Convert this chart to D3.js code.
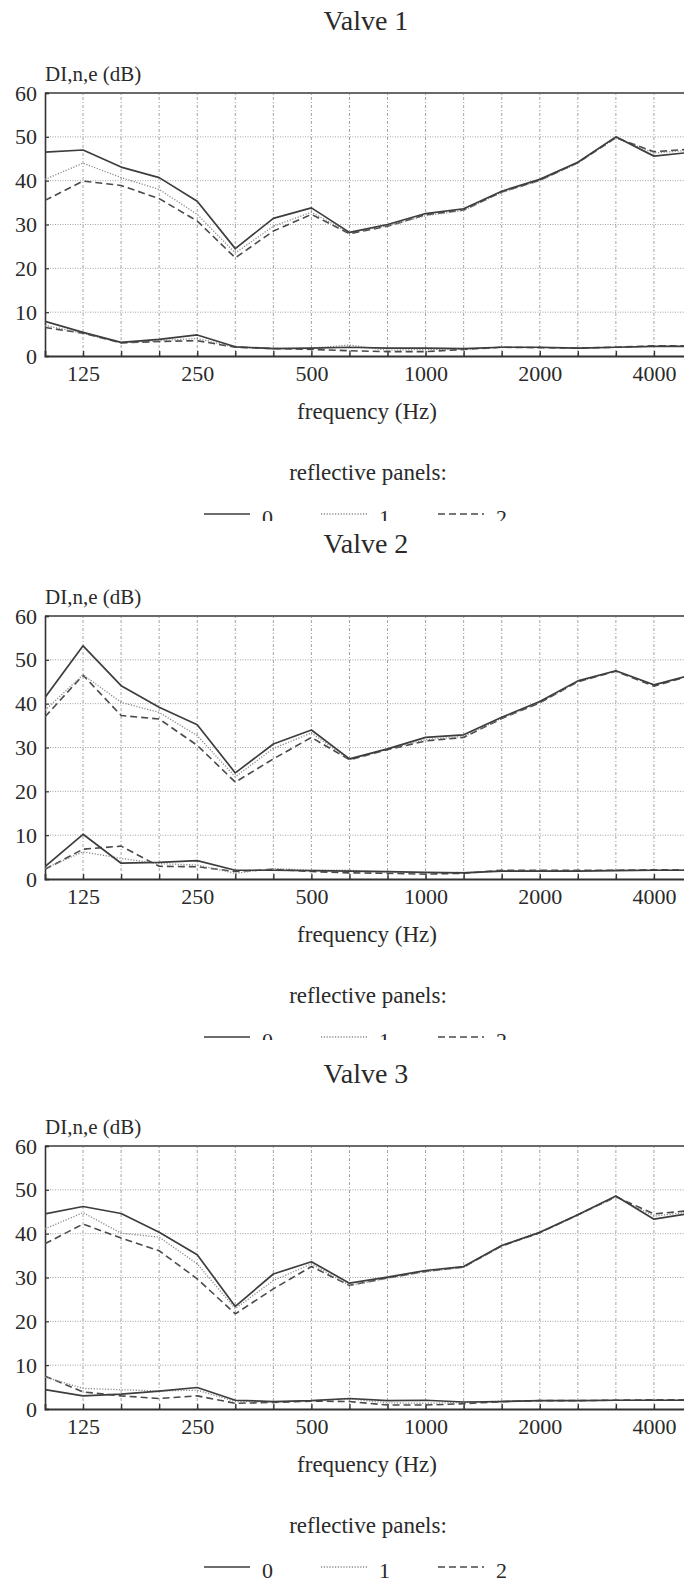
<!DOCTYPE html>
<html><head><meta charset="utf-8">
<script src="https://cdn.jsdelivr.net/npm/d3@7"></script>
<style>
html,body{margin:0;padding:0;background:#fff;}
svg{display:block;}
text{font-family:"Liberation Serif","Times New Roman",serif;fill:#2a2a2a;}
</style></head>
<body>
<svg id="c" width="684" height="1584"></svg>
<script>
// third-octave bands (Hz)
const bands = [100,125,160,200,250,315,400,500,630,800,1000,1250,1600,2000,2500,3150,4000,5000];
const xTickLabels = [125,250,500,1000,2000,4000];
const yTicks = [0,10,20,30,40,50,60];
const panelTitles = ["Valve 1","Valve 2","Valve 3"];
const legendLabels = ["0","1","2"];

// Valve 1
const v1_hi_0 = [46.5,47.0,43.1,40.7,35.3,24.5,31.4,33.8,28.2,30.0,32.5,33.6,37.6,40.3,44.2,50.0,45.6,46.5];
const v1_hi_1 = [40.3,44.0,40.7,38.0,32.3,23.5,29.6,32.8,28.1,29.7,32.0,33.2,37.3,40.0,44.0,49.8,46.3,47.0];
const v1_hi_2 = [35.5,39.9,38.9,35.9,30.8,22.4,28.5,32.3,27.9,29.6,32.2,33.3,37.4,40.1,44.1,49.8,46.6,47.2];
const v1_lo_0 = [7.9,5.4,3.1,3.8,4.8,2.1,1.7,1.8,2.0,1.8,1.8,1.7,2.0,2.0,1.8,2.0,2.2,2.2];
const v1_lo_1 = [7.0,5.2,3.0,3.5,4.0,2.0,1.7,1.8,2.5,1.3,1.5,1.5,2.0,1.9,1.8,2.0,2.2,2.3];
const v1_lo_2 = [6.5,5.2,3.0,3.3,3.5,2.0,1.7,1.5,1.2,1.0,1.0,1.5,2.0,1.9,1.8,2.0,2.3,2.3];
// Valve 2
const v2_hi_0 = [41.4,53.2,44.1,39.2,35.2,24.2,30.8,34.0,27.4,29.7,32.3,32.9,36.9,40.5,45.2,47.5,44.3,46.6];
const v2_hi_1 = [38.5,46.6,40.3,38.0,32.7,23.3,29.8,33.3,27.2,29.6,31.8,32.5,36.7,40.3,45.0,47.4,44.2,46.5];
const v2_hi_2 = [37.0,46.5,37.3,36.5,30.5,22.1,27.4,32.3,27.2,29.5,31.5,32.3,36.6,40.2,45.0,47.4,44.0,46.5];
const v2_lo_0 = [2.8,10.2,3.6,3.8,4.2,2.0,2.0,1.9,1.8,1.7,1.5,1.4,1.8,1.8,1.8,1.9,2.0,2.0];
const v2_lo_1 = [2.4,6.2,4.7,3.5,3.2,1.3,2.4,2.0,2.0,1.6,1.4,1.5,1.9,1.9,1.9,2.0,2.0,2.1];
const v2_lo_2 = [2.2,6.8,7.5,2.9,2.8,1.7,2.2,1.7,1.4,1.3,1.1,1.3,2.0,2.0,2.0,2.0,2.1,2.1];
// Valve 3
const v3_hi_0 = [44.5,46.2,44.6,40.3,35.2,23.4,30.8,33.6,28.7,30.1,31.6,32.5,37.3,40.3,44.3,48.6,43.3,44.7];
const v3_hi_1 = [41.1,44.8,40.1,39.2,33.1,22.9,29.3,33.1,28.2,29.8,31.3,32.3,37.2,40.2,44.2,48.4,44.0,45.0];
const v3_hi_2 = [37.7,42.2,39.0,36.1,29.7,21.7,27.4,32.5,28.2,29.9,31.4,32.4,37.2,40.2,44.3,48.4,44.5,45.3];
const v3_lo_0 = [4.4,3.0,3.4,4.1,4.9,2.0,1.7,1.9,2.4,1.9,2.0,1.6,1.7,1.9,1.9,2.0,2.0,2.0];
const v3_lo_1 = [7.3,4.7,4.4,4.1,4.3,1.7,1.6,1.9,2.3,1.4,1.3,1.5,1.8,1.9,1.9,2.0,2.0,2.0];
const v3_lo_2 = [7.5,3.9,3.0,2.4,3.0,1.3,1.5,1.8,1.7,0.9,0.9,1.2,1.7,1.9,1.9,2.0,2.1,2.1];

const panelSeries = [
  [[v1_hi_0,v1_lo_0],[v1_hi_1,v1_lo_1],[v1_hi_2,v1_lo_2]],
  [[v2_hi_0,v2_lo_0],[v2_hi_1,v2_lo_1],[v2_hi_2,v2_lo_2]],
  [[v3_hi_0,v3_lo_0],[v3_hi_1,v3_lo_1],[v3_hi_2,v3_lo_2]]
];

// layout
const zeroY = [356, 879, 1409];
const clipTop = [0, 521, 1040];
const clipBot = [521, 1040, 1584];
const plotH = 263;
const plotL = 45, plotR = 692;

const styles = [
  {stroke:"#3d3d3d", width:1.7, dash:null},
  {stroke:"#8a8a8a", width:1.3, dash:"1.2,1.6"},
  {stroke:"#4a4a4a", width:1.6, dash:"7,4"}
];

const svg = d3.select("#c");
svg.append("rect").attr("width",684).attr("height",1584).attr("fill","#fff");
const defs = svg.append("defs");

const x = d3.scalePoint().domain(bands).range([plotL, plotR]).padding(0);

panelTitles.forEach((title, p) => {
  const y0 = zeroY[p];
  defs.append("clipPath").attr("id","cp"+p).append("rect")
    .attr("x",0).attr("y",clipTop[p]).attr("width",684).attr("height",clipBot[p]-clipTop[p]);
  const g = svg.append("g").attr("clip-path","url(#cp"+p+")");
  const y = d3.scaleLinear().domain([0,60]).range([y0, y0-plotH]);

  // title
  g.append("text").attr("x",366).attr("y",y0-326).attr("text-anchor","middle")
    .attr("font-size",28).text(title);
  // y label
  g.append("text").attr("x",45).attr("y",y0-275).attr("font-size",21).text("DI,n,e (dB)");

  // grid
  const grid = g.append("g");
  grid.selectAll("line.v").data(bands.slice(1)).enter().append("line")
    .attr("x1",d=>x(d)).attr("x2",d=>x(d)).attr("y1",y(0)).attr("y2",y(60))
    .attr("stroke","#8c8c8c").attr("stroke-width",0.8).attr("stroke-dasharray","3,2,1,2");
  grid.selectAll("line.h").data([10,20,30,40,50]).enter().append("line")
    .attr("x1",plotL).attr("x2",plotR).attr("y1",d=>y(d)).attr("y2",d=>y(d))
    .attr("stroke","#8c8c8c").attr("stroke-width",0.8).attr("stroke-dasharray","1,1.5");

  // frame
  g.append("line").attr("x1",plotL).attr("x2",plotR).attr("y1",y(60)).attr("y2",y(60))
    .attr("stroke","#6a6a6a").attr("stroke-width",1.8);

  // y axis
  const ya = g.append("g").attr("transform",`translate(${plotL},0)`)
    .call(d3.axisLeft(y).tickValues(yTicks).tickSize(-4).tickPadding(8).tickFormat(d3.format("d")));
  ya.select(".domain").attr("stroke","#333").attr("stroke-width",1.6);
  ya.selectAll(".tick line").attr("stroke","#333").attr("stroke-width",1.2);
  ya.selectAll("text").attr("font-size",22).attr("font-family","Liberation Serif").attr("fill","#2a2a2a")
    .attr("dy","0.32em");

  // x axis
  const xa = g.append("g").attr("transform",`translate(0,${y0})`)
    .call(d3.axisBottom(x).tickValues(bands.slice(1,17)).tickSize(-5).tickPadding(6)
      .tickFormat(d => xTickLabels.includes(d) ? String(d) : ""));
  xa.select(".domain").attr("stroke","#333").attr("stroke-width",1.8);
  xa.selectAll(".tick line").attr("stroke","#333").attr("stroke-width",1.4);
  xa.selectAll("text").attr("font-size",22).attr("font-family","Liberation Serif").attr("fill","#2a2a2a")
    .attr("dy","0").attr("y",25);

  // series
  const line = d3.line().x((d,i)=>x(bands[i])).y(d=>y(d));
  const plotClipId = "pc"+p;
  defs.append("clipPath").attr("id",plotClipId).append("rect")
    .attr("x",plotL).attr("y",y(60)).attr("width",plotR-plotL).attr("height",plotH);
  const lg = g.append("g").attr("clip-path",`url(#${plotClipId})`);
  [2,1,0].forEach(s => {
    panelSeries[p][s].forEach(arr => {
      lg.append("path").datum(arr).attr("d",line).attr("fill","none")
        .attr("stroke",styles[s].stroke).attr("stroke-width",styles[s].width)
        .attr("stroke-dasharray",styles[s].dash).attr("stroke-linejoin","round");
    });
  });

  // axis title
  g.append("text").attr("x",367).attr("y",y0+63).attr("text-anchor","middle")
    .attr("font-size",23).text("frequency (Hz)");
  g.append("text").attr("x",368).attr("y",y0+124).attr("text-anchor","middle")
    .attr("font-size",23).text("reflective panels:");

  // legend
  const legX = [204, 321, 438];
  legendLabels.forEach((lab,s) => {
    g.append("line").attr("x1",legX[s]).attr("x2",legX[s]+46).attr("y1",y0+158).attr("y2",y0+158)
      .attr("stroke",styles[s].stroke).attr("stroke-width",styles[s].width)
      .attr("stroke-dasharray",styles[s].dash);
    g.append("text").attr("x",legX[s]+58).attr("y",y0+169).attr("font-size",22).text(lab);
  });
});
</script>
</body></html>
